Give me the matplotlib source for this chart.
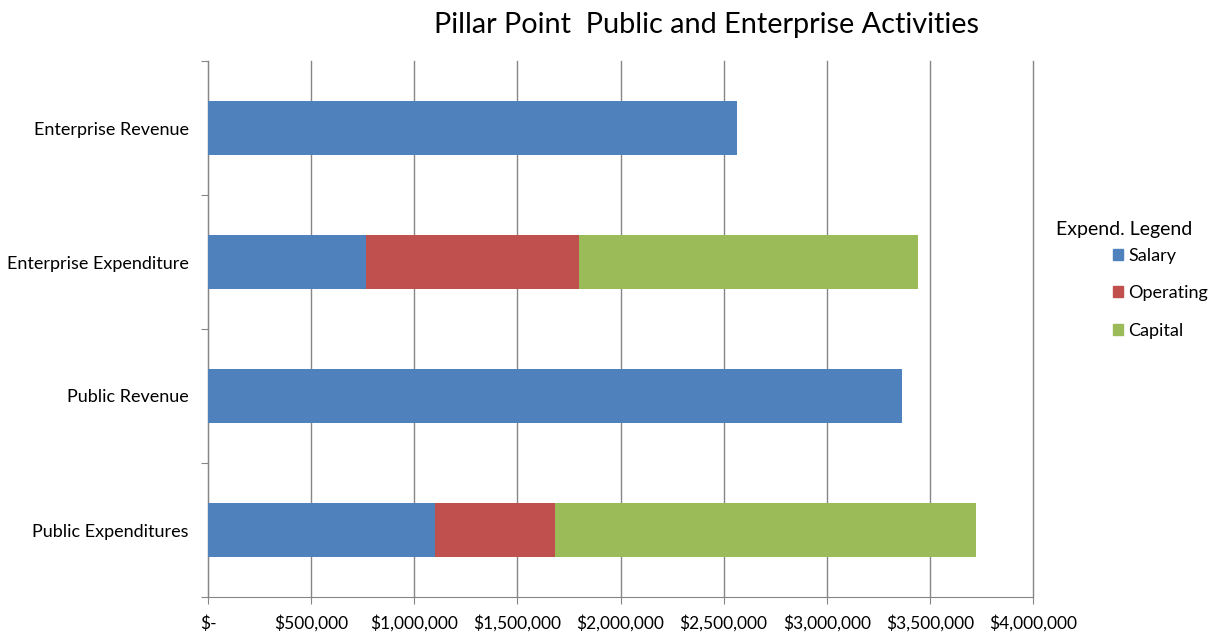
import matplotlib.pyplot as plt
from matplotlib.patches import Patch
from matplotlib.ticker import FuncFormatter

plt.rcParams['font.family'] = ['Lato', 'DejaVu Sans']

categories = ['Public Expenditures', 'Public Revenue', 'Enterprise Expenditure', 'Enterprise Revenue']
salary = [1103000, 3365000, 767000, 2563000]
operating = [578000, 0, 1033000, 0]
capital = [2041000, 0, 1642000, 0]

series = ['Salary', 'Operating', 'Capital']
colors = ['#4F81BD', '#C0504D', '#9BBB59']
grid_color = '#868686'

W, H = 1220, 635
fig = plt.figure(figsize=(W / 100, H / 100), dpi=100)
ax = fig.add_axes([208 / W, (H - 597) / H, (1033 - 208) / W, (597 - 61) / H])

ypos = list(range(len(categories)))
left = [0] * len(categories)
for vals, name, col in zip([salary, operating, capital], series, colors):
    ax.barh(ypos, vals, left=left, height=0.4, color=col, label=name, zorder=3)
    left = [a + b for a, b in zip(left, vals)]

ax.set_xlim(0, 4000000)
ax.set_ylim(-0.5, len(categories) - 0.5)

# x axis: accounting style dollar labels
ax.set_xticks(range(0, 4000001, 500000))
ax.xaxis.set_major_formatter(FuncFormatter(lambda v, p: '$-' if v == 0 else f'${v:,.0f}'))
ax.tick_params(axis='x', length=5, color=grid_color, labelsize=12.5, pad=8)
ax.xaxis.grid(True, color=grid_color, linewidth=1, zorder=0)
for gl in ax.get_xgridlines():
    gl.set_clip_on(False)

# y axis: tick marks between categories, labels centred on the bars
ax.set_yticks([i - 0.5 for i in range(len(categories) + 1)])
ax.set_yticklabels([])
ax.set_yticks(ypos, minor=True)
ax.set_yticklabels(categories, minor=True)
ax.tick_params(axis='y', which='major', length=5, color=grid_color)
ax.tick_params(axis='y', which='minor', length=0, labelsize=13, pad=14)

for side in ['top', 'right']:
    ax.spines[side].set_visible(False)
for side in ['left', 'bottom']:
    ax.spines[side].set_color(grid_color)

fig.text(706 / W, 1 - 25 / H, 'Pillar Point  Public and Enterprise Activities',
         ha='center', va='center', fontsize=20.8)

fig.text(1056 / W, 1 - 229 / H, 'Expend. Legend', ha='left', va='center', fontsize=14)
handles = [Patch(color=c, label=s) for s, c in zip(series, colors)]
fig.legend(handles=handles, loc='upper left', bbox_to_anchor=(1113 / W, 1 - 248 / H),
           frameon=False, fontsize=13, handlelength=0.55, handleheight=0.55,
           handletextpad=0.3, labelspacing=1.18, borderaxespad=0, borderpad=0)

fig.savefig('out.png', dpi=100)
